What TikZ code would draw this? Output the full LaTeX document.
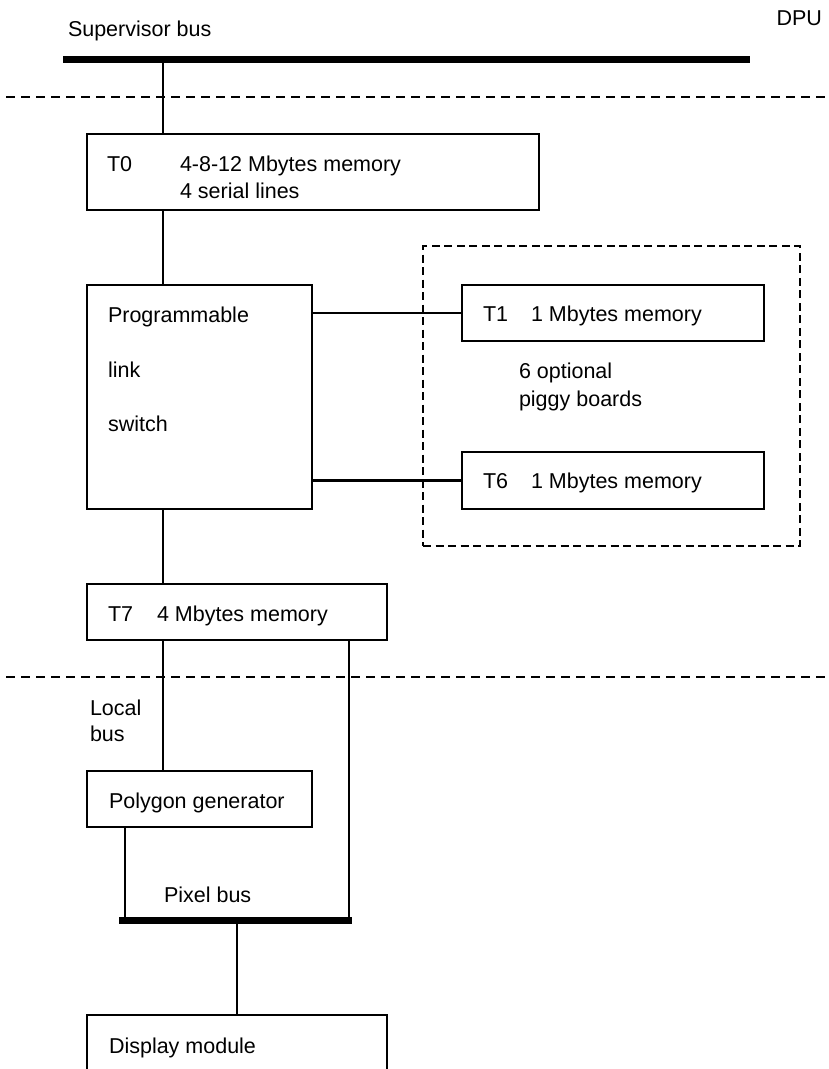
\documentclass[tikz,border=0pt]{standalone}
\usepackage{fontspec}
\setmainfont{Liberation Sans}
\begin{document}
\begin{tikzpicture}[x=1pt,y=-1pt,
  every node/.style={inner sep=0pt, outer sep=0pt},
  box/.style={draw, line width=2.8pt, rectangle, anchor=north west},
  optbox/.style={draw, line width=2.6pt, dash pattern=on 8pt off 4.5pt, rectangle, anchor=north west},
  wire/.style={line width=2.4pt},
  bus/.style={line width=7pt},
  sep/.style={line width=2.4pt, dash pattern=on 9pt off 6pt},
  txt/.style={anchor=base west, font=\fontsize{21.5}{26}\selectfont},
  txte/.style={anchor=base east, font=\fontsize{21.5}{26}\selectfont}]
\useasboundingbox (0,0) rectangle (828,1069);
\clip (0,0) rectangle (828,1069);

% headings
\node[txt]  (suplabel) at (68,36) {Supervisor bus};
\node[txte] (dpu) at (822,25) {DPU};

% supervisor bus and the board boundaries
\coordinate (sb-w) at (63,59);
\coordinate (sb-e) at (750,59);
\coordinate (sb-tap) at (163,59);
\draw[bus] (sb-w) -- (sb-e);
\coordinate (sep1-w) at (6,97);
\coordinate (sep1-e) at (828,97);
\draw[sep] (sep1-w) -- (sep1-e);
\coordinate (sep2-w) at (6,677);
\coordinate (sep2-e) at (828,677);
\draw[sep] (sep2-w) -- (sep2-e);

% optional piggy boards
\node[optbox, minimum width=377pt, minimum height=300pt] (opt) at (423,246) {};

% boards
\node[box, minimum width=452pt, minimum height=76pt]  (t0)   at (87,134) {};
\node[box, minimum width=225pt, minimum height=224pt] (pls)  at (87,285) {};
\node[box, minimum width=302pt, minimum height=56pt]  (t1)   at (462,285) {};
\node[box, minimum width=302pt, minimum height=57pt]  (t6)   at (462,452) {};
\node[box, minimum width=300pt, minimum height=56pt]  (t7)   at (87,584) {};
\node[box, minimum width=225pt, minimum height=56pt]  (poly) at (87,771) {};
\node[box, minimum width=300pt, minimum height=90pt]  (disp) at (87,1015) {};

% board texts
\node[txt] at (107,171) {T0};
\node[txt] at (180,171) {4-8-12 Mbytes memory};
\node[txt] at (180,198) {4 serial lines};
\node[txt] at (108,322) {Programmable};
\node[txt] at (108,377) {link};
\node[txt] at (108,431) {switch};
\node[txt] at (483,321) {T1};
\node[txt] at (531,321) {1 Mbytes memory};
\node[txt] at (519,378) {6 optional};
\node[txt] at (519,406) {piggy boards};
\node[txt] at (483,488) {T6};
\node[txt] at (531,488) {1 Mbytes memory};
\node[txt] at (108,621) {T7};
\node[txt] at (157,621) {4 Mbytes memory};
\node[txt] at (90,715) {Local};
\node[txt] at (90,741) {bus};
\node[txt] at (109,808) {Polygon generator};
\node[txt] at (164,902) {Pixel bus};
\node[txt] at (109,1053) {Display module};

% pixel bus
\coordinate (pb-w) at (119,920);
\coordinate (pb-e) at (352,920);
\coordinate (pb-l) at (125,920);
\coordinate (pb-m) at (237,920);
\coordinate (pb-r) at (349,920);
\draw[bus] (pb-w) -- (pb-e);

% links
\draw[wire] (sb-tap) -- (sb-tap |- t0.north);
\draw[wire] (sb-tap |- t0.south) -- (sb-tap |- pls.north);
\draw[wire] (pls.east |- t1.west) -- (t1.west);
\draw[wire] (pls.east |- t6.west) -- (t6.west);
\draw[wire] (sb-tap |- pls.south) -- (sb-tap |- t7.north);
\draw[wire] (sb-tap |- t7.south) -- (sb-tap |- poly.north);
\draw[wire] (pb-r |- t7.south) -- (pb-r);
\draw[wire] (pb-l |- poly.south) -- (pb-l);
\draw[wire] (pb-m) -- (pb-m |- disp.north);
\end{tikzpicture}
\end{document}
